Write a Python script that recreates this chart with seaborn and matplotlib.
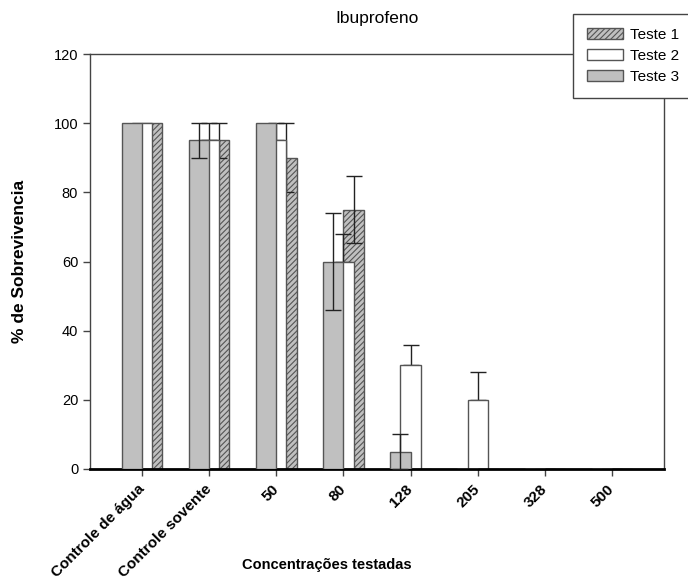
import numpy as np
import pandas as pd
import matplotlib
matplotlib.use('Agg')
import matplotlib.pyplot as plt
from matplotlib.patches import Patch
import seaborn as sns

# dados
grupos = ['Controle de água', 'Controle sovente', '50', '80', '128', '205', '328', '500']
teste1 = [100, 95, 90, 75, 0, 0, 0, 0]
erro1 = [0, 5, 10, 9.6, 0, 0, 0, 0]
teste2 = [100, 95, 95, 60, 30, 20, 0, 0]
erro2 = [0, 5, 5, 8, 5.8, 8, 0, 0]
teste3 = [100, 95, 100, 60, 5, 0, 0, 0]
erro3 = [0, 5, 0, 14, 5, 0, 0, 0]

sns.set_style('ticks')
plt.rcParams['font.family'] = ['Liberation Sans', 'DejaVu Sans']
plt.rcParams['text.color'] = 'black'
plt.rcParams['axes.labelcolor'] = 'black'
plt.rcParams['hatch.linewidth'] = 0.8
plt.rcParams['hatch.color'] = '#444444'

fig = plt.figure(figsize=(6.88, 5.82), dpi=100)
ax = fig.add_axes([90 / 688, 113 / 582, 574 / 688, 415 / 582])

pos = np.arange(len(grupos))
cinza = '#c0c0c0'
borda = '#555555'

series = [
    # (valores, erros, deslocamento, cor, hachura, zorder, só para cima)
    (teste1, erro1, 0.15, cinza, '//////', 1, False),
    (teste2, erro2, 0.0, 'white', None, 2, True),
    (teste3, erro3, -0.15, cinza, None, 3, False),
]

for vals, errs, off, cor, hatch, z, so_cima in series:
    df = pd.DataFrame({'x': pos + off, 'y': vals})
    n0 = len(ax.patches)
    sns.barplot(data=df, x='x', y='y', native_scale=True, width=0.3,
                color=cor, saturation=1, edgecolor=borda, linewidth=1,
                errorbar=None, hatch=hatch, ax=ax)
    for p in ax.patches[n0:]:
        p.set_zorder(z)
    errs = np.array(errs)
    m = errs > 0
    if m.any():
        e = errs[m]
        yerr = [np.zeros_like(e), e] if so_cima else e
        ax.errorbar(pos[m] + off, np.array(vals)[m], yerr=yerr, fmt='none',
                    ecolor='#222222', elinewidth=1, capsize=6, capthick=1,
                    zorder=z - 0.1 if so_cima else z + 0.5)

ax.set_xlim(-0.78, 7.78)
ax.set_ylim(0, 120)
ax.set_yticks(range(0, 121, 20))
ax.set_xticks(pos)
ax.set_xticklabels(grupos, rotation=45, ha='right', va='center',
                   rotation_mode='anchor', fontsize=11, fontweight='bold')
ax.tick_params(axis='y', labelsize=10.5, length=5, width=1, color='#444444',
               labelcolor='black')
ax.tick_params(axis='x', length=5, width=1, color='#444444', pad=8,
               labelcolor='black')

for s in ['left', 'top', 'right']:
    ax.spines[s].set_color('#444444')
    ax.spines[s].set_linewidth(1)
ax.spines['bottom'].set_color('black')
ax.spines['bottom'].set_linewidth(2)

ax.set_title('Ibuprofeno', fontsize=12.5, pad=22)
ax.set_ylabel('% de Sobrevivencia', fontsize=12.5, fontweight='bold')
ax.yaxis.set_label_coords(-(90 - 27) / 574, 0.5)
ax.set_xlabel('Concentrações testadas', fontsize=10.5, fontweight='bold')
ax.xaxis.set_label_coords((327 - 90) / 574, -0.215)

handles = [
    Patch(facecolor=cinza, edgecolor=borda, hatch='//////', label='Teste 1'),
    Patch(facecolor='white', edgecolor=borda, label='Teste 2'),
    Patch(facecolor=cinza, edgecolor=borda, label='Teste 3'),
]
leg = fig.legend(handles=handles, loc='upper left',
                 bbox_to_anchor=(573 / 688, 1 - 14 / 582), fontsize=11,
                 fancybox=False, framealpha=1, edgecolor='#444444',
                 borderaxespad=0, handlelength=2.4, handleheight=0.8,
                 handletextpad=0.4, labelspacing=0.45, borderpad=0.9)
leg.get_frame().set_linewidth(1)

fig.savefig('out.png', dpi=100)
